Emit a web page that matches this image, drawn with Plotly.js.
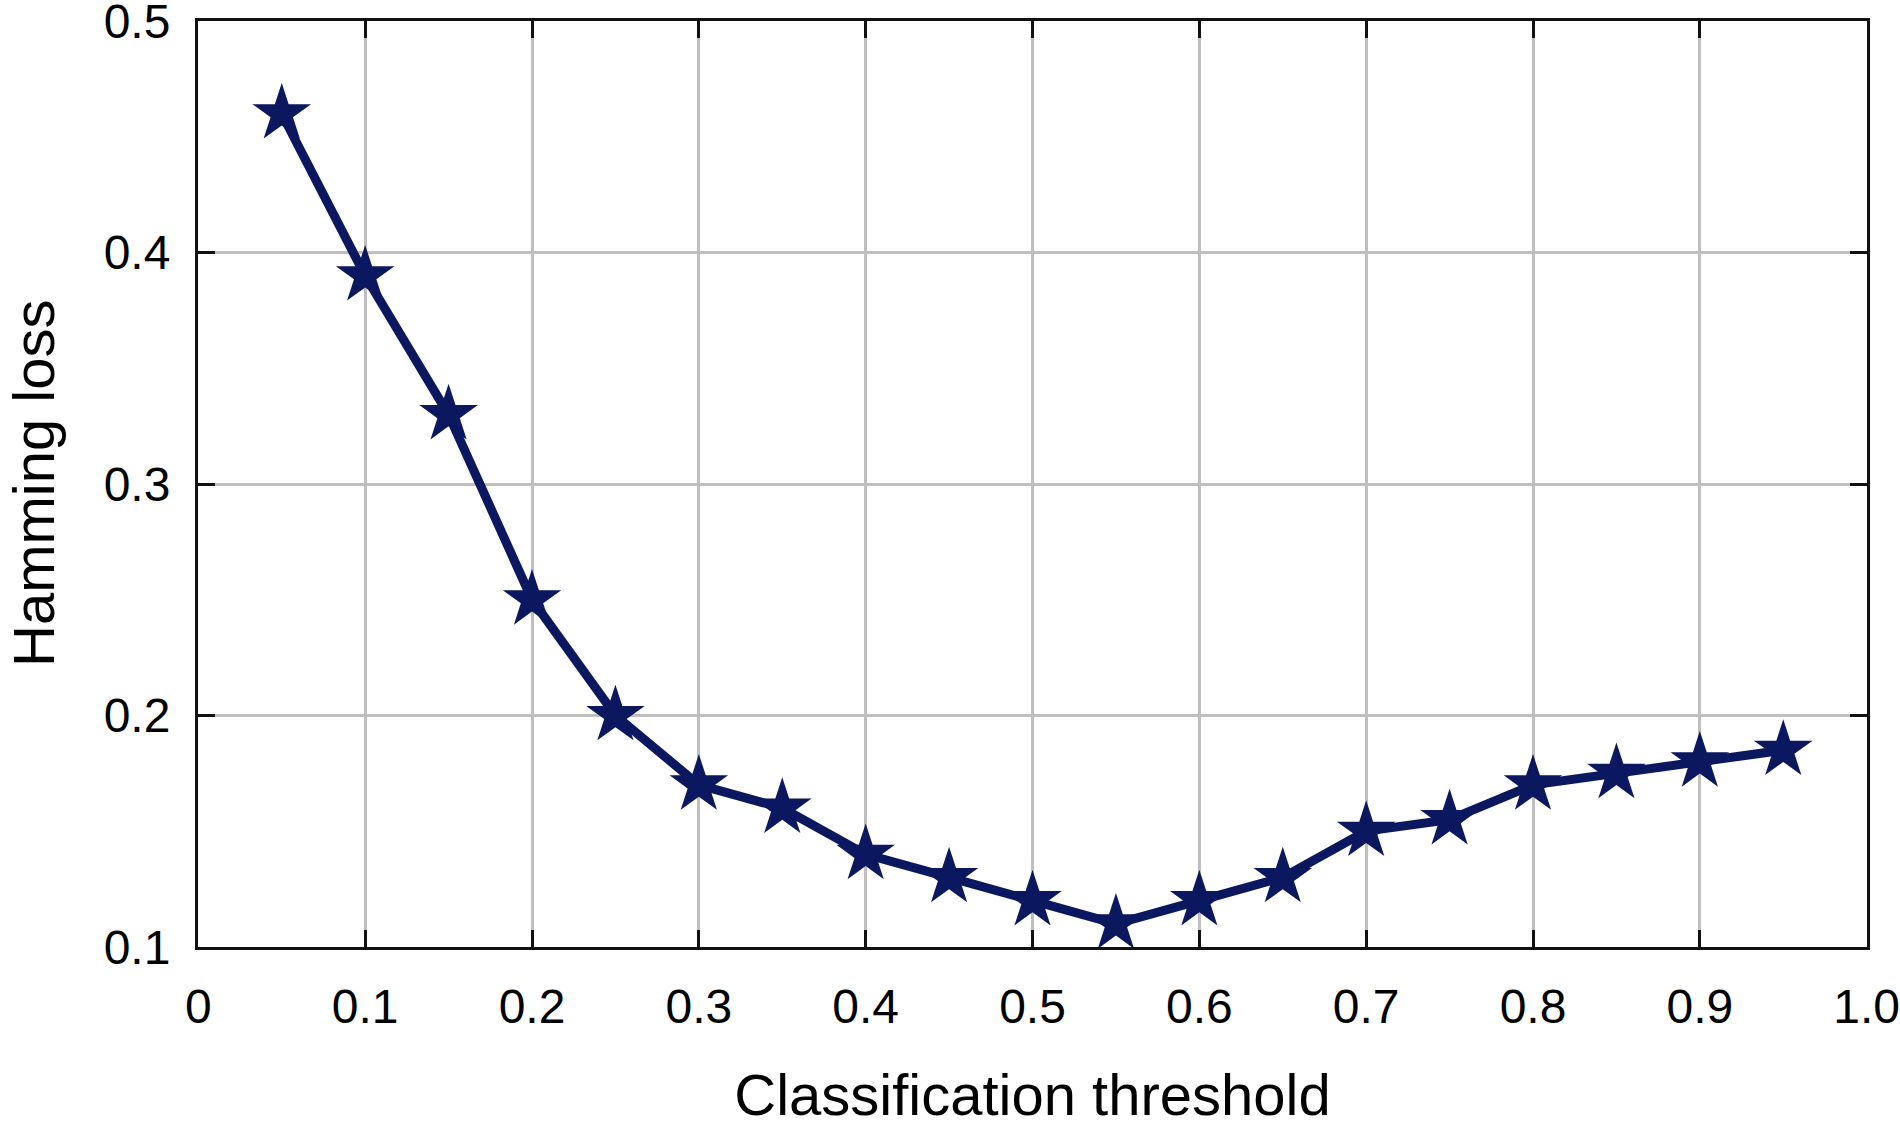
<!DOCTYPE html>
<html>
<head>
<meta charset="utf-8">
<script src="https://cdn.plot.ly/plotly-3.0.1.min.js"></script>
<style>html,body{margin:0;padding:0;background:#fff;}#chart{width:1900px;height:1127px;}</style>
</head>
<body>
<div id="chart"></div>
<script>
const thresholds = [0.05,0.10,0.15,0.20,0.25,0.30,0.35,0.40,0.45,0.50,0.55,0.60,0.65,0.70,0.75,0.80,0.85,0.90,0.95];
const hammingLoss = [0.46,0.39,0.33,0.25,0.20,0.17,0.16,0.14,0.13,0.12,0.11,0.12,0.13,0.15,0.155,0.17,0.175,0.18,0.185];
const xTickVals = [0,0.1,0.2,0.3,0.4,0.5,0.6,0.7,0.8,0.9,1.0];
const xTickText = ["0","0.1","0.2","0.3","0.4","0.5","0.6","0.7","0.8","0.9","1.0"];
const yTickVals = [0.1,0.2,0.3,0.4,0.5];
const yTickText = ["0.1","0.2","0.3","0.4","0.5"];
const xTitle = "Classification threshold";
const yTitle = "Hamming loss";

const navy = "#0b175f";
const fontFam = "Liberation Sans, Arial, sans-serif";

const trace = {
  x: thresholds, y: hammingLoss, type: "scatter", mode: "lines+markers",
  line: {color: navy, width: 9},
  marker: {symbol: "star", size: 44, color: navy, line: {width: 0}},
  cliponaxis: false, showlegend: false
};

const axisCommon = {
  showline: true, linecolor: "#111", linewidth: 3, mirror: "ticks",
  ticks: "inside", ticklen: 17, tickwidth: 3, tickcolor: "#111",
  showgrid: true, gridcolor: "#bfbfbf", gridwidth: 3, zeroline: false,
  ticklabeloverflow: "allow",
  tickfont: {family: fontFam, size: 48, color: "#000"}
};

const layout = {
  width: 1900, height: 1127,
  margin: {l: 198, r: 33, t: 21, b: 180},
  paper_bgcolor: "#fff", plot_bgcolor: "#fff",
  xaxis: Object.assign({}, axisCommon, {
    range: [-0.0002, 1.0002], tickmode: "array", tickvals: xTickVals, ticktext: xTickText,
    ticklabelstandoff: 15,
    title: {text: xTitle, font: {family: fontFam, size: 58, color: "#000"}, standoff: 46}
  }),
  yaxis: Object.assign({}, axisCommon, {
    range: [0.09995, 0.50005], tickmode: "array", tickvals: yTickVals, ticktext: yTickText,
    ticklabelstandoff: 15
  }),
  annotations: [{
    text: yTitle, textangle: -90, showarrow: false,
    xref: "paper", yref: "paper", x: 0, y: 0.5,
    xanchor: "center", yanchor: "middle", xshift: -165,
    font: {family: fontFam, size: 58, color: "#000"}
  }]
};

Plotly.newPlot("chart", [trace], layout, {displayModeBar: false, staticPlot: true});
</script>
</body>
</html>
